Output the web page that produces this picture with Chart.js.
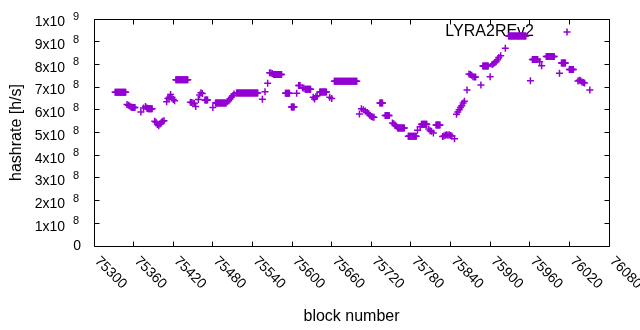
<!DOCTYPE html>
<html>
<head>
<meta charset="utf-8">
<script src="https://cdn.jsdelivr.net/npm/chart.js@4.4.0/dist/chart.umd.min.js"></script>
<style>
   html, body { margin: 0; padding: 0; background: #fff; }
   #wrap { width: 640px; height: 330px; }
</style>
</head>
<body>
<div id="wrap"><canvas id="hashChart" width="640" height="330"></canvas></div>
<script>
const seriesName = 'LYRA2REv2';

// block number of each sample
const blockNumbers = [
   75332, 75333, 75334, 75335, 75336, 75337, 75338, 75339, 75340, 75341, 75342, 75343,
   75344, 75345, 75346, 75347, 75348,
   75350, 75352, 75354, 75356, 75357, 75358, 75359, 75360, 75361, 75362,
   75371, 75375,
   75378, 75380, 75381, 75382, 75383, 75384, 75385, 75386, 75387, 75388,
   75392, 75394, 75396, 75398, 75400, 75402, 75404, 75406,
   75410, 75412, 75414, 75416, 75418, 75420, 75422,
   75424, 75425, 75426, 75427, 75428, 75429, 75430, 75431, 75432, 75433, 75434, 75435,
   75436, 75437, 75438, 75439, 75440, 75441, 75442,
   75446, 75448, 75450, 75452, 75454,
   75458, 75460, 75462, 75464,
   75468, 75469, 75470, 75471, 75472,
   75480,
   75484, 75485, 75486, 75487, 75488, 75489, 75490, 75491, 75492, 75493, 75494, 75495,
   75496, 75497, 75498, 75499, 75500,
   75502, 75504, 75506, 75508, 75510, 75512,
   75516, 75517, 75518, 75519, 75520, 75521, 75522, 75523, 75524, 75525, 75526, 75527,
   75528, 75529, 75530, 75531, 75532, 75533, 75534, 75535, 75536, 75537, 75538, 75539,
   75540, 75541, 75542, 75543, 75544, 75545, 75546, 75547, 75548,
   75555, 75559, 75563,
   75566, 75568, 75570,
   75572, 75573, 75574, 75575, 75576, 75577, 75578, 75579, 75580, 75581, 75582, 75583, 75584,
   75590, 75591, 75592, 75593, 75594, 75595, 75596,
   75599, 75600, 75601, 75602, 75603,
   75607,
   75610, 75611, 75612,
   75616, 75618, 75620, 75621, 75622, 75623, 75624, 75625, 75626, 75627, 75628,
   75632, 75634, 75636, 75638,
   75642, 75643, 75644, 75645, 75646, 75647, 75648, 75649, 75650, 75651, 75652,
   75657, 75660,
   75664, 75665, 75666, 75667, 75668, 75669, 75670, 75671, 75672, 75673, 75674, 75675,
   75676, 75677, 75678, 75679, 75680, 75681, 75682, 75683, 75684, 75685, 75686, 75687,
   75688, 75689, 75690, 75691, 75692, 75693, 75694, 75695, 75696, 75697, 75698,
   75702, 75705, 75708, 75711, 75714, 75716, 75718, 75720, 75722, 75724,
   75733, 75734, 75735, 75736, 75737,
   75741, 75742, 75743, 75744, 75745, 75746, 75747,
   75752, 75754, 75756, 75758,
   75760, 75761, 75762, 75763, 75764, 75765, 75766, 75767, 75768, 75769, 75770,
   75776, 75777, 75778, 75779, 75780, 75781, 75782, 75783, 75784, 75785, 75786, 75787, 75788,
   75790, 75794,
   75796, 75797, 75798, 75799, 75800, 75801, 75802, 75803, 75804,
   75807, 75809, 75811, 75814,
   75818, 75819, 75820, 75821, 75822, 75823, 75824,
   75828, 75830, 75832, 75834, 75836, 75838, 75840, 75842, 75846,
   75849, 75851, 75853, 75855, 75857, 75859, 75861, 75865,
   75868, 75870, 75872, 75874, 75876, 75878,
   75886,
   75889, 75890, 75891, 75892, 75893, 75894, 75895, 75896, 75897,
   75900,
   75903, 75905, 75907, 75909, 75911, 75913, 75916, 75923,
   75928, 75929, 75930, 75931, 75932, 75933, 75934, 75935, 75936, 75937, 75938, 75939,
   75940, 75941, 75942, 75943, 75944, 75945, 75946, 75947, 75948, 75949, 75950, 75951,
   75952, 75953, 75954,
   75961,
   75964, 75965, 75966, 75967, 75968, 75969, 75970, 75971, 75972,
   75975, 75978,
   75985, 75986, 75987, 75988, 75989, 75990, 75991, 75992, 75993, 75994, 75995, 75996, 75997,
   76005,
   76008, 76009, 76010, 76011, 76012, 76013, 76014,
   76020, 76021, 76022, 76023, 76024, 76025, 76026,
   76033, 76035, 76037, 76039, 76041, 76043, 76051
];

// estimated hashrate at each block [h/s]
const hashrates = [
   6.77e8, 6.77e8, 6.77e8, 6.77e8, 6.77e8, 6.77e8, 6.77e8, 6.77e8, 6.77e8, 6.77e8, 6.77e8, 6.77e8,
   6.77e8, 6.77e8, 6.77e8, 6.77e8, 6.77e8,
   6.23e8, 6.20e8, 6.17e8, 6.12e8, 6.11e8, 6.10e8, 6.10e8, 6.10e8, 6.10e8, 6.10e8,
   5.90e8, 6.08e8,
   6.15e8, 6.08e8, 6.06e8, 6.05e8, 6.05e8, 6.05e8, 6.05e8, 6.05e8, 6.05e8, 6.05e8,
   5.50e8, 5.45e8, 5.35e8, 5.30e8, 5.37e8, 5.45e8, 5.50e8, 5.52e8,
   6.36e8, 6.50e8, 6.55e8, 6.67e8, 6.55e8, 6.45e8, 6.40e8,
   7.32e8, 7.32e8, 7.32e8, 7.32e8, 7.32e8, 7.32e8, 7.32e8, 7.32e8, 7.32e8, 7.32e8, 7.32e8, 7.32e8,
   7.32e8, 7.32e8, 7.32e8, 7.32e8, 7.32e8, 7.32e8, 7.32e8,
   6.33e8, 6.32e8, 6.30e8, 6.28e8, 6.15e8,
   6.45e8, 6.65e8, 6.75e8, 6.72e8,
   6.43e8, 6.43e8, 6.43e8, 6.43e8, 6.43e8,
   6.10e8,
   6.30e8, 6.30e8, 6.30e8, 6.30e8, 6.30e8, 6.30e8, 6.30e8, 6.30e8, 6.30e8, 6.30e8, 6.30e8, 6.30e8,
   6.30e8, 6.30e8, 6.30e8, 6.30e8, 6.30e8,
   6.35e8, 6.40e8, 6.48e8, 6.55e8, 6.62e8, 6.70e8,
   6.74e8, 6.74e8, 6.74e8, 6.74e8, 6.74e8, 6.74e8, 6.74e8, 6.74e8, 6.74e8, 6.74e8, 6.74e8, 6.74e8,
   6.74e8, 6.74e8, 6.74e8, 6.74e8, 6.74e8, 6.74e8, 6.74e8, 6.74e8, 6.74e8, 6.74e8, 6.74e8, 6.74e8,
   6.74e8, 6.74e8, 6.74e8, 6.74e8, 6.74e8, 6.74e8, 6.74e8, 6.74e8, 6.74e8,
   6.46e8, 6.80e8, 7.17e8,
   7.63e8, 7.62e8, 7.60e8,
   7.56e8, 7.56e8, 7.56e8, 7.56e8, 7.56e8, 7.56e8, 7.56e8, 7.56e8, 7.56e8, 7.56e8, 7.56e8, 7.56e8, 7.56e8,
   6.73e8, 6.73e8, 6.73e8, 6.73e8, 6.73e8, 6.73e8, 6.73e8,
   6.12e8, 6.12e8, 6.12e8, 6.12e8, 6.12e8,
   6.73e8,
   7.07e8, 7.07e8, 7.07e8,
   6.97e8, 6.95e8, 6.90e8, 6.90e8, 6.90e8, 6.90e8, 6.90e8, 6.90e8, 6.90e8, 6.90e8, 6.90e8,
   6.55e8, 6.48e8, 6.58e8, 6.62e8,
   6.78e8, 6.78e8, 6.78e8, 6.78e8, 6.78e8, 6.78e8, 6.78e8, 6.78e8, 6.78e8, 6.78e8, 6.78e8,
   6.55e8, 6.50e8,
   7.26e8, 7.26e8, 7.26e8, 7.26e8, 7.26e8, 7.26e8, 7.26e8, 7.26e8, 7.26e8, 7.26e8, 7.26e8, 7.26e8,
   7.26e8, 7.26e8, 7.26e8, 7.26e8, 7.26e8, 7.26e8, 7.26e8, 7.26e8, 7.26e8, 7.26e8, 7.26e8, 7.26e8,
   7.26e8, 7.26e8, 7.26e8, 7.26e8, 7.26e8, 7.26e8, 7.26e8, 7.26e8, 7.26e8, 7.26e8, 7.26e8,
   5.81e8, 6.05e8, 6.00e8, 5.95e8, 5.88e8, 5.83e8, 5.75e8, 5.70e8, 5.68e8, 5.67e8,
   6.30e8, 6.30e8, 6.30e8, 6.30e8, 6.30e8,
   5.75e8, 5.75e8, 5.75e8, 5.75e8, 5.75e8, 5.75e8, 5.75e8,
   5.42e8, 5.38e8, 5.33e8, 5.27e8,
   5.20e8, 5.20e8, 5.20e8, 5.20e8, 5.20e8, 5.20e8, 5.20e8, 5.20e8, 5.20e8, 5.20e8, 5.20e8,
   4.83e8, 4.83e8, 4.83e8, 4.83e8, 4.83e8, 4.83e8, 4.83e8, 4.83e8, 4.83e8, 4.83e8, 4.83e8, 4.83e8, 4.83e8,
   5.10e8, 5.25e8,
   5.36e8, 5.36e8, 5.36e8, 5.36e8, 5.36e8, 5.36e8, 5.36e8, 5.36e8, 5.36e8,
   5.15e8, 5.08e8, 5.05e8, 4.98e8,
   5.33e8, 5.33e8, 5.33e8, 5.33e8, 5.33e8, 5.33e8, 5.33e8,
   4.82e8, 4.85e8, 4.88e8, 4.90e8, 4.88e8, 4.90e8, 4.87e8, 4.85e8, 4.72e8,
   5.80e8, 5.90e8, 6.00e8, 6.10e8, 6.18e8, 6.30e8, 6.38e8, 6.87e8,
   7.58e8, 7.55e8, 7.52e8, 7.46e8, 7.45e8, 7.45e8,
   7.09e8,
   7.93e8, 7.93e8, 7.93e8, 7.93e8, 7.93e8, 7.93e8, 7.93e8, 7.93e8, 7.93e8,
   7.46e8,
   8.00e8, 8.03e8, 8.07e8, 8.12e8, 8.20e8, 8.30e8, 8.38e8, 8.71e8,
   9.25e8, 9.25e8, 9.25e8, 9.25e8, 9.25e8, 9.25e8, 9.25e8, 9.25e8, 9.25e8, 9.25e8, 9.25e8, 9.25e8,
   9.25e8, 9.25e8, 9.25e8, 9.25e8, 9.25e8, 9.25e8, 9.25e8, 9.25e8, 9.25e8, 9.25e8, 9.25e8, 9.25e8,
   9.25e8, 9.25e8, 9.25e8,
   7.28e8,
   8.22e8, 8.22e8, 8.22e8, 8.22e8, 8.22e8, 8.22e8, 8.22e8, 8.22e8, 8.22e8,
   8.12e8, 7.94e8,
   8.35e8, 8.35e8, 8.35e8, 8.35e8, 8.35e8, 8.35e8, 8.35e8, 8.35e8, 8.35e8, 8.35e8, 8.35e8, 8.35e8, 8.35e8,
   7.61e8,
   8.06e8, 8.06e8, 8.06e8, 8.06e8, 8.06e8, 8.06e8, 8.06e8,
   7.77e8, 7.77e8, 7.77e8, 7.77e8, 7.77e8, 7.77e8, 7.77e8,
   7.27e8, 7.30e8, 7.28e8, 7.22e8, 7.20e8, 7.18e8, 6.87e8
];

const xTickValues = [75300, 75360, 75420, 75480, 75540, 75600, 75660,
                     75720, 75780, 75840, 75900, 75960, 76020, 76080];
const yTickValues = [0, 1e8, 2e8, 3e8, 4e8, 5e8, 6e8, 7e8, 8e8, 9e8, 1e9];

const FONT = "'Liberation Sans', Arial, sans-serif";
const POINT_COLOR = '#9400d3';
const POINT_R = 3.5;
const POINT_LW = 1.5;
const TICK_LEN = 5;

// "7x10^8" -> mantissa + exponent, gnuplot style
function splitTick(v) {
   if (v === 0) return ['0', ''];
   const exp = Math.floor(Math.log10(v) + 1e-9);
   const mant = Math.round(v / Math.pow(10, exp));
   return [mant + 'x10', String(exp)];
}

// border box with inward ticks, tick labels, and the key
const gnuplotLook = {
   id: 'gnuplotLook',
   beforeDatasetsDraw(chart) {
      const ctx = chart.ctx;
      const ds = chart.data.datasets[0];
      ctx.save();
      ctx.fillStyle = '#000';
      ctx.font = '16px ' + FONT;
      ctx.textAlign = 'right';
      ctx.textBaseline = 'middle';
      ctx.fillText(ds.label, 534, 32);
      ctx.strokeStyle = POINT_COLOR;
      ctx.lineWidth = POINT_LW;
      ctx.beginPath();
      ctx.moveTo(567 - POINT_R, 32); ctx.lineTo(567 + POINT_R, 32);
      ctx.moveTo(567, 32 - POINT_R); ctx.lineTo(567, 32 + POINT_R);
      ctx.stroke();
      ctx.restore();
   },
   afterDatasetsDraw(chart) {
      const ctx = chart.ctx;
      const xs = chart.scales.x;
      const ys = chart.scales.y;
      const a = chart.chartArea;
      const L = Math.floor(a.left) + 0.5, R = Math.floor(a.right) + 0.5;
      const T = Math.floor(a.top) + 0.5, B = Math.floor(a.bottom) + 0.5;
      ctx.save();
      ctx.strokeStyle = '#000';
      ctx.lineWidth = 1;
      ctx.beginPath();
      ctx.rect(L, T, R - L, B - T);
      xs.ticks.forEach(t => {
         const px = Math.floor(xs.getPixelForValue(t.value)) + 0.5;
         ctx.moveTo(px, B); ctx.lineTo(px, B - TICK_LEN);
         ctx.moveTo(px, T); ctx.lineTo(px, T + TICK_LEN);
      });
      ys.ticks.forEach(t => {
         const py = Math.floor(ys.getPixelForValue(t.value)) + 0.5;
         ctx.moveTo(L, py); ctx.lineTo(L + TICK_LEN, py);
         ctx.moveTo(R, py); ctx.lineTo(R - TICK_LEN, py);
      });
      ctx.stroke();

      ctx.fillStyle = '#000';
      // x tick labels, rotated down-right
      ctx.font = '14px ' + FONT;
      ctx.textAlign = 'left';
      ctx.textBaseline = 'middle';
      xs.ticks.forEach(t => {
         const px = xs.getPixelForValue(t.value);
         ctx.save();
         ctx.translate(px + 3, a.bottom + 13);
         ctx.rotate(Math.PI / 4);
         ctx.fillText(String(t.value), 0, 0);
         ctx.restore();
      });
      // y tick labels with superscript exponent
      ys.ticks.forEach(t => {
         const py = ys.getPixelForValue(t.value);
         const [base, exp] = splitTick(t.value);
         ctx.textAlign = 'right';
         if (!exp) {
            ctx.font = '14px ' + FONT;
            ctx.fillText(base, 81, py + 0.5);
            return;
         }
         ctx.font = '14px ' + FONT;
         ctx.fillText(base, 65, py + 3.5);
         ctx.textAlign = 'left';
         ctx.font = '11px ' + FONT;
         ctx.fillText(exp, 73, py - 2);
      });
      ctx.restore();
   }
};

const frameBox = { left: 94, top: 19, right: 609, bottom: 246 };

new Chart(document.getElementById('hashChart'), {
   type: 'scatter',
   data: {
      datasets: [{
         label: seriesName,
         data: blockNumbers.map((b, i) => ({ x: b, y: hashrates[i] })),
         showLine: false,
         pointStyle: 'cross',
         pointRadius: POINT_R,
         pointHoverRadius: POINT_R,
         borderWidth: POINT_LW,
         borderColor: POINT_COLOR,
         backgroundColor: POINT_COLOR
      }]
   },
   options: {
      responsive: false,
      animation: false,
      devicePixelRatio: 1,
      layout: {
         autoPadding: false,
         padding: { left: 0, top: frameBox.top, right: 640 - frameBox.right, bottom: 0 }
      },
      plugins: {
         legend: { display: false },
         tooltip: { enabled: false }
      },
      scales: {
         x: {
            type: 'linear',
            min: 75300,
            max: 76080,
            afterBuildTicks: s => { s.ticks = xTickValues.map(v => ({ value: v })); },
            afterFit: s => { s.height = 330 - frameBox.bottom; },
            ticks: { display: false },
            grid: { display: false },
            border: { display: false },
            title: {
               display: true,
               text: 'block number',
               color: '#000',
               font: { family: FONT, size: 16 },
               padding: { top: 0, bottom: 4 }
            }
         },
         y: {
            type: 'linear',
            min: 0,
            max: 1e9,
            afterBuildTicks: s => { s.ticks = yTickValues.map(v => ({ value: v })); },
            afterFit: s => { s.width = frameBox.left; },
            ticks: { display: false },
            grid: { display: false },
            border: { display: false },
            title: {
               display: true,
               text: 'hashrate [h/s]',
               color: '#000',
               font: { family: FONT, size: 16 },
               padding: { top: 7, bottom: 0 }
            }
         }
      }
   },
   plugins: [gnuplotLook]
});
</script>
</body>
</html>
